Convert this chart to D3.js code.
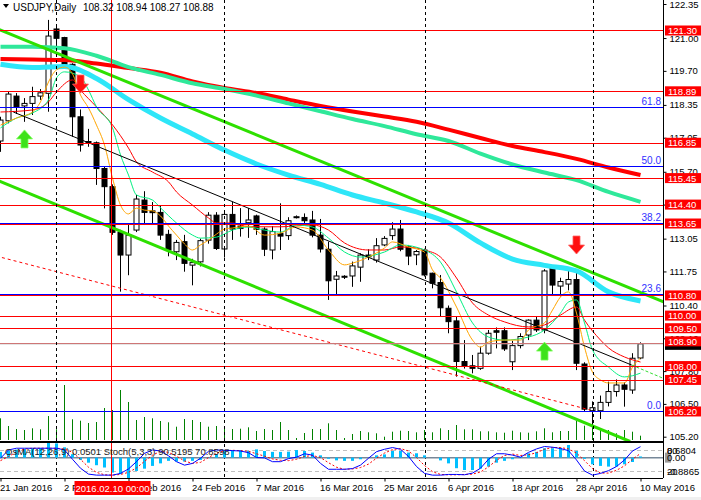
<!DOCTYPE html>
<html>
<head>
<meta charset="utf-8">
<script src="https://cdn.jsdelivr.net/npm/d3@7"></script>
<style>
  body { margin: 0; background: #fff; }
  svg { display: block; font-family: "Liberation Sans", Arial, sans-serif; font-size: 9px; }
</style>
</head>
<body>
<svg id="chart" width="701" height="500"></svg>
<script>
// USDJPY daily, bar index 0 = 21 Jan 2016 ... 80 = 10 May 2016
const barOpen = [116.92,117.72,118.70,118.31,118.41,118.70,118.81,121.36,121.02,119.96,
  117.88,116.90,116.85,115.83,115.11,113.30,112.40,113.39,114.58,114.15,
  114.09,113.22,112.53,112.93,112.00,112.13,112.99,113.98,112.64,114.01,
  113.55,113.68,113.95,113.43,112.60,113.25,113.17,113.88,113.89,113.79,
  113.19,112.63,111.44,111.56,111.57,111.92,112.40,112.20,112.80,113.17,
  113.43,112.73,112.41,112.60,111.68,111.31,110.29,109.79,108.18,108.01,
  107.91,108.51,109.40,109.40,108.17,108.81,109.23,109.82,109.43,111.88,
  111.17,111.25,111.43,108.08,106.23,106.23,106.56,106.99,107.25,107.05,108.32];
const barHigh = [117.88,118.90,118.82,118.62,119.07,118.98,121.72,121.45,121.05,120.00,
  118.17,117.40,116.90,115.90,115.20,113.40,113.59,114.78,114.93,114.50,
  114.38,113.40,113.00,113.20,112.25,113.05,114.10,114.10,114.18,114.51,
  114.26,114.26,114.00,113.50,113.55,114.45,113.90,113.97,114.05,114.15,
  113.83,112.93,111.77,111.60,112.14,112.47,112.63,113.07,113.15,113.70,
  113.79,112.80,112.60,112.65,111.70,111.61,110.40,109.96,109.03,108.44,
  108.77,109.43,109.53,109.53,109.00,109.30,109.85,109.96,111.84,111.90,
  111.50,111.78,111.81,108.15,106.60,106.83,107.38,107.47,107.35,108.51,108.94];
const barLow = [116.49,117.62,117.99,117.68,117.95,118.55,118.08,120.59,119.87,117.09,
  116.50,116.69,115.18,114.25,113.20,110.95,111.60,113.31,113.59,113.59,
  113.00,112.35,112.20,111.74,111.20,111.95,112.85,112.60,112.30,113.00,
  113.13,113.08,113.20,112.36,112.23,112.60,113.00,113.85,113.60,113.10,
  112.50,110.62,110.79,111.45,111.14,111.34,112.20,112.10,112.75,113.00,
  112.55,112.00,112.00,111.55,111.08,109.96,109.30,107.58,107.90,107.71,
  107.85,108.45,108.70,108.60,107.84,108.70,109.03,109.35,109.30,110.82,
  110.76,111.00,107.84,106.21,105.60,105.90,106.40,106.79,106.39,106.90,108.27];
const barClose = [117.75,118.78,118.27,118.41,118.68,118.83,121.08,120.99,119.96,117.88,
  116.76,116.84,115.83,115.11,113.30,112.40,113.19,114.62,114.09,114.08,
  113.19,112.60,112.90,112.07,112.10,112.97,113.98,112.66,114.01,113.43,
  113.45,113.79,113.42,112.63,113.33,113.15,113.76,113.92,113.76,113.19,
  112.64,111.38,111.57,111.52,111.97,112.40,112.33,112.77,113.06,113.43,
  112.63,112.36,112.54,111.61,111.28,110.31,109.76,108.18,108.00,107.91,
  108.51,109.30,109.34,108.68,108.81,109.17,109.82,109.43,111.77,111.21,
  111.35,111.43,108.11,106.29,106.35,106.56,106.99,107.25,107.08,108.31,108.88];
const tickVolume = [217,140,110,100,117,107,240,107,550,207,
  193,170,180,320,300,500,380,200,230,217,
  190,177,133,210,200,180,133,140,123,110,
  113,127,90,110,100,180,100,20,70,110,
  110,167,100,20,60,90,77,67,33,83,
  93,90,77,100,77,117,100,150,107,107,
  87,87,77,73,93,77,73,87,117,77,
  90,90,193,143,133,117,100,67,100,83,43];
const osmaValues = [0.25,0.30,0.35,0.38,0.40,0.42,0.68,0.62,0.45,0.15,
  -0.10,-0.22,-0.33,-0.43,-0.65,-0.72,-0.8865,-0.58,-0.48,-0.36,
  -0.25,-0.14,-0.17,-0.17,-0.14,-0.10,-0.02,0.14,0.29,0.32,
  0.32,0.29,0.36,0.29,0.25,0.25,0.26,0.33,0.29,0.22,
  0.10,-0.05,-0.12,-0.14,-0.14,-0.07,0.00,0.10,0.14,0.29,
  0.29,0.22,0.19,0.10,0.00,-0.12,-0.25,-0.46,-0.54,-0.54,
  -0.48,-0.39,-0.22,-0.14,-0.07,0.03,0.19,0.25,0.41,0.41,
  0.43,0.55,0.29,-0.05,-0.29,-0.36,-0.39,-0.39,-0.29,-0.19,0.0501];
const stochMain = [57,81,86,86,86,86,86,86,81,54,
  28,11,8,8,8,13,26,47,71,81,
  78,64,47,37,42,57,77,81,80,79,
  78,73,59,58,47,47,56,60,70,66,
  42,25,25,25,27,37,57,76,83,88,
  83,62,33,13,8,8,10,10,9,14,
  28,54,70,70,66,60,74,84,91,89,
  85,79,52,20,8,13,21,33,52,78,90.52];
const stochSignal = [50,62,75,84,86,86,86,86,84,74,
  54,31,16,9,8,10,16,29,48,66,
  77,74,63,49,42,45,59,72,79,80,
  79,77,70,63,55,51,50,54,62,65,
  59,44,31,25,26,30,40,57,72,82,
  85,78,59,36,18,10,9,9,10,11,
  17,32,51,65,69,65,67,73,83,88,
  88,84,72,50,27,14,14,22,35,54,70.86];

// moving averages as [bar, price]
const maRedThick = [[0,120.17],[4,120.15],[8,120.13],[12,119.99],[16,119.81],[20,119.63],[24,119.28],
  [28,119.02],[32,118.82],[36,118.56],[40,118.31],[44,118.09],[48,117.89],[52,117.68],[56,117.37],
  [60,117.04],[64,116.72],[68,116.48],[72,116.21],[76,115.87],[80,115.57]];
const maSpringThick = [[0,120.66],[4,120.66],[8,120.60],[12,120.30],[16,119.85],[20,119.54],[24,119.21],
  [28,118.98],[32,118.72],[36,118.41],[40,118.10],[44,117.79],[48,117.51],[52,117.19],[56,116.92],
  [60,116.42],[64,115.99],[68,115.67],[72,115.37],[76,114.90],[80,114.51]];
const maCyanThick = [[0,119.96],[4,119.83],[8,119.87],[12,119.40],[16,118.56],[20,117.83],[24,117.20],
  [28,116.56],[32,116.01],[36,115.57],[40,115.20],[44,114.78],[48,114.46],[52,114.11],[56,113.67],
  [60,112.88],[64,112.24],[68,111.99],[72,111.77],[76,110.94],[80,110.58]];
const maOrange = [[0,117.55],[2,117.83],[4,118.07],[5,118.47],[6,119.26],[7,119.74],[8,119.85],[9,119.58],
  [10,118.74],[11,118.23],[12,117.55],[13,116.76],[14,115.45],[15,114.38],[16,114.03],[17,114.26],
  [18,114.18],[19,114.15],[20,113.95],[21,113.55],[22,113.19],[23,112.84],[24,112.60],[25,112.80],
  [26,112.99],[27,113.23],[28,113.43],[29,113.47],[31,113.55],[33,113.19],[35,113.27],[37,113.51],
  [39,113.39],[41,112.60],[43,112.01],[44,112.08],[46,112.32],[48,112.68],[49,112.92],[51,112.72],
  [53,112.52],[54,111.81],[55,111.49],[57,110.34],[59,109.03],[60,108.75],[61,108.95],[63,109.03],
  [65,109.03],[66,109.43],[68,109.71],[69,110.22],[70,110.74],[71,110.94],[72,110.10],[73,108.75],
  [74,107.76],[75,107.45],[76,107.33],[78,107.33],[79,107.96],[80,108.32]];
const maRedThin = [[0,118.07],[4,118.15],[6,118.47],[7,118.86],[9,119.34],[10,118.94],[12,118.27],
  [14,117.56],[16,116.64],[17,116.09],[19,115.69],[21,115.30],[22,114.90],[24,114.38],[26,113.87],
  [27,113.67],[29,113.67],[31,113.52],[35,113.52],[39,113.59],[41,113.39],[43,112.88],[46,112.60],
  [48,112.60],[50,112.72],[52,112.68],[53,112.60],[55,112.32],[57,111.49],[59,110.50],[61,110.02],
  [63,109.75],[66,109.55],[68,109.63],[70,110.02],[72,110.34],[73,109.82],[75,109.03],[76,108.72],
  [78,108.36],[80,108.16]];
const maSpringThin = [[0,117.44],[2,117.83],[4,118.03],[6,118.55],[7,119.42],[8,119.66],[10,119.46],
  [11,118.94],[12,118.27],[14,117.44],[15,116.37],[16,115.57],[17,114.78],[19,114.58],[20,114.27],
  [22,113.67],[24,113.19],[25,113.07],[27,113.11],[29,113.39],[31,113.51],[33,113.39],[35,113.31],
  [37,113.59],[39,113.51],[41,113.07],[43,112.52],[45,112.32],[48,112.52],[50,112.80],[53,112.60],
  [55,112.12],[57,110.94],[59,109.71],[61,109.15],[63,109.03],[66,109.15],[68,109.43],[70,110.10],
  [71,110.54],[72,110.62],[73,109.71],[74,108.64],[76,107.96],[78,107.57],[80,107.72]];

// trend lines, endpoints as [bar, price]
const channelUpper = [[-2,121.58],[83,110.53]];
const channelLower = [[-2,115.57],[78.7,105.01]];
const blackTrend = [[1.6,118.07],[78.9,108.04]];
const limeDashTrend = [[78.9,108.04],[82.8,107.52]];
const redDashTrend = [[-2,112.48],[73.7,106.26]];

const redLevels = [121.30,118.89,116.85,115.45,114.40,113.65,110.80,110.00,109.50,108.90,108.00,107.45,106.20];
const fibPrices = [106.19,110.83,113.62,115.90,118.22];
const fibLabels = ["0.0","23.6","38.2","50.0","61.8"];
const bidPrice = 108.88;

const upArrows = [[3,117.36],[68,108.95]];
const downArrows = [[10,118.82],[72,112.44]];

const priceTicks = [122.35,121.00,119.70,118.35,117.05,115.70,114.40,113.05,111.75,110.40,109.10,107.80,106.50,105.20];
const timeTickBars = [0,8,16,24,32,40,48,56,64,72,80];
const timeTickLabels = ["21 Jan 2016","2 Feb 2016","12 Feb 2016","24 Feb 2016","7 Mar 2016","16 Mar 2016",
  "25 Mar 2016","6 Apr 2016","18 Apr 2016","28 Apr 2016","10 May 2016"];
const separatorBars = [7,28,53,74];
const markerBar = 14;
const markerLabel = "2016.02.10 00:00";

const plotRight = 663, mainBottom = 441, subTop = 443, subBottom = 478;

const svg = d3.select("#chart");
svg.append("rect").attr("width", 701).attr("height", 500).attr("fill", "#fff");
svg.append("rect").attr("x", 0).attr("y", 497).attr("width", 701).attr("height", 3).attr("fill", "#f0f0f0");

const x = d3.scaleLinear().domain([0, 80]).range([0.5, 640.5]);
const y = d3.scaleLinear().domain([105.20, 122.35]).range([436.7, 4]);
const yVol = d3.scaleLinear().domain([0, 600]).range([440, 380]);
const yOsma = d3.scaleLinear().domain([-0.8865, 0.6804]).range([478, 442]);
const yStoch = d3.scaleLinear().domain([0, 100]).range([477.9, 443.4]);

const defs = svg.append("defs");
defs.append("clipPath").attr("id", "clipMain")
  .append("rect").attr("x", 0).attr("y", 0).attr("width", plotRight).attr("height", mainBottom);
defs.append("clipPath").attr("id", "clipSub")
  .append("rect").attr("x", 0).attr("y", subTop).attr("width", plotRight).attr("height", subBottom - subTop);

const bars = d3.range(barOpen.length);
const main = svg.append("g").attr("clip-path", "url(#clipMain)");

// volumes
main.append("g").selectAll("line").data(bars).enter().append("line")
  .attr("x1", function (i) { return x(i); })
  .attr("x2", function (i) { return x(i); })
  .attr("y1", yVol(0))
  .attr("y2", function (i) { return yVol(tickVolume[i]); })
  .attr("stroke", "#008000").attr("stroke-width", 1);

// period separators, through both windows
svg.append("g").selectAll("line").data(separatorBars).enter().append("line")
  .attr("x1", function (i) { return Math.round(x(i)) + 0.5; })
  .attr("x2", function (i) { return Math.round(x(i)) + 0.5; })
  .attr("y1", 0).attr("y2", subBottom)
  .attr("stroke", "#000").attr("stroke-dasharray", "3,3");

// candles
const candles = main.append("g").selectAll("g").data(bars).enter().append("g");
candles.append("line")
  .attr("x1", function (i) { return x(i); })
  .attr("x2", function (i) { return x(i); })
  .attr("y1", function (i) { return y(barHigh[i]); })
  .attr("y2", function (i) { return y(barLow[i]); })
  .attr("stroke", "#000");
candles.append("rect")
  .attr("x", function (i) { return x(i) - 2.5; })
  .attr("y", function (i) { return y(Math.max(barOpen[i], barClose[i])); })
  .attr("width", 5)
  .attr("height", function (i) { return Math.max(1, Math.abs(y(barOpen[i]) - y(barClose[i]))); })
  .attr("fill", function (i) { return barClose[i] >= barOpen[i] ? "#fff" : "#000"; })
  .attr("stroke", "#000").attr("stroke-width", 1);

const maLine = d3.line()
  .x(function (d) { return x(d[0]); })
  .y(function (d) { return y(d[1]); })
  .curve(d3.curveMonotoneX);

function drawPath(data, color, width, dash) {
  const p = main.append("path").datum(data)
    .attr("fill", "none").attr("stroke", color).attr("stroke-width", width)
    .attr("d", maLine);
  if (dash) p.attr("stroke-dasharray", dash);
  return p;
}

drawPath(maRedThick, "#ff0000", 4);
drawPath(maSpringThick, "#2fe89a", 4);
drawPath(maCyanThick, "#2ee6f8", 5);
drawPath(maRedThin, "#ff0000", 1);
drawPath(maSpringThin, "#00f080", 1);
drawPath(maOrange, "#ffa500", 1);

const straight = d3.line()
  .x(function (d) { return x(d[0]); })
  .y(function (d) { return y(d[1]); });
main.append("path").datum(channelUpper).attr("d", straight).attr("fill", "none").attr("stroke", "#2ee000").attr("stroke-width", 3);
main.append("path").datum(channelLower).attr("d", straight).attr("fill", "none").attr("stroke", "#2ee000").attr("stroke-width", 3);
main.append("path").datum(blackTrend).attr("d", straight).attr("fill", "none").attr("stroke", "#000").attr("stroke-width", 1);
main.append("path").datum(limeDashTrend).attr("d", straight).attr("fill", "none").attr("stroke", "#33dd33").attr("stroke-width", 1).attr("stroke-dasharray", "3,2");
main.append("path").datum(redDashTrend).attr("d", straight).attr("fill", "none").attr("stroke", "#ff0000").attr("stroke-width", 1).attr("stroke-dasharray", "3,3");

// horizontal levels
main.append("g").selectAll("line").data(redLevels).enter().append("line")
  .attr("x1", 0).attr("x2", plotRight)
  .attr("y1", function (d) { return Math.round(y(d)) + 0.5; })
  .attr("y2", function (d) { return Math.round(y(d)) + 0.5; })
  .attr("stroke", "#ff0000").attr("stroke-width", 1);
main.append("g").selectAll("line").data(fibPrices).enter().append("line")
  .attr("x1", 0).attr("x2", plotRight)
  .attr("y1", function (d) { return Math.round(y(d)) - 0.5; })
  .attr("y2", function (d) { return Math.round(y(d)) - 0.5; })
  .attr("stroke", "#0000ff").attr("stroke-width", 1);
main.append("line")
  .attr("x1", 0).attr("x2", plotRight)
  .attr("y1", y(bidPrice)).attr("y2", y(bidPrice))
  .attr("stroke", "#b4b4b4").attr("stroke-width", 1);
main.append("g").selectAll("text").data(fibPrices).enter().append("text")
  .attr("x", 661)
  .attr("y", function (d) { return y(d) - 3; })
  .attr("text-anchor", "end")
  .attr("fill", "#3030ff")
  .style("font-size", "10px")
  .text(function (d, k) { return fibLabels[k]; });

// signal arrows
function upArrow(cx, ty) {
  return "M" + cx + "," + ty + "l8,9h-4.5v9h-7v-9h-4.5z";
}
function downArrow(cx, by) {
  return "M" + cx + "," + by + "l8,-9h-4.5v-9h-7v9h-4.5z";
}
main.append("g").selectAll("path").data(upArrows).enter().append("path")
  .attr("d", function (d) { return upArrow(x(d[0]), y(d[1])); })
  .attr("fill", "#3ee21a").attr("stroke", "#7cff5a").attr("stroke-width", 0.8);
main.append("g").selectAll("path").data(downArrows).enter().append("path")
  .attr("d", function (d) { return downArrow(x(d[0]), y(d[1])); })
  .attr("fill", "#ff1010").attr("stroke", "#ff6060").attr("stroke-width", 0.8);

// sub window: OsMA + Stochastic
const sub = svg.append("g").attr("clip-path", "url(#clipSub)");
sub.append("g").selectAll("line").data([80, 20]).enter().append("line")
  .attr("x1", 0).attr("x2", plotRight)
  .attr("y1", function (d) { return Math.round(yStoch(d)) + 0.5; })
  .attr("y2", function (d) { return Math.round(yStoch(d)) + 0.5; })
  .attr("stroke", "#c0c0c0").attr("stroke-dasharray", "4,3");
sub.append("line")
  .attr("x1", 0).attr("x2", plotRight)
  .attr("y1", yOsma(0)).attr("y2", yOsma(0))
  .attr("stroke", "#778899").attr("stroke-width", 1.5);
sub.append("g").selectAll("rect").data(bars).enter().append("rect")
  .attr("x", function (i) { return x(i) - 1.5; })
  .attr("width", 3)
  .attr("y", function (i) { return Math.min(yOsma(0), yOsma(osmaValues[i])); })
  .attr("height", function (i) { return Math.abs(yOsma(osmaValues[i]) - yOsma(0)); })
  .attr("fill", "#00bfff");
const stochLine = d3.line()
  .x(function (d, i) { return x(i); })
  .y(function (d) { return yStoch(d); });
sub.append("path").datum(stochSignal).attr("d", stochLine)
  .attr("fill", "none").attr("stroke", "#ff0000").attr("stroke-dasharray", "2,2");
sub.append("path").datum(stochMain).attr("d", stochLine)
  .attr("fill", "none").attr("stroke", "#0000ff");

// marker vertical line (drawn over both windows)
svg.append("line")
  .attr("x1", Math.round(x(markerBar)) - 0.5).attr("x2", Math.round(x(markerBar)) - 0.5)
  .attr("y1", 0).attr("y2", subBottom)
  .attr("stroke", "#ff0000");

// frame
svg.append("line").attr("x1", 0).attr("x2", plotRight).attr("y1", mainBottom + 0.5).attr("y2", mainBottom + 0.5).attr("stroke", "#000");
svg.append("line").attr("x1", 0).attr("x2", plotRight).attr("y1", subTop - 0.5).attr("y2", subTop - 0.5).attr("stroke", "#000");
svg.append("line").attr("x1", 0).attr("x2", plotRight).attr("y1", subBottom + 0.5).attr("y2", subBottom + 0.5).attr("stroke", "#000");
svg.append("line").attr("x1", plotRight + 0.5).attr("x2", plotRight + 0.5).attr("y1", 0).attr("y2", subBottom).attr("stroke", "#000");

// price axis
const yAxis = svg.append("g")
  .attr("transform", "translate(" + (plotRight + 0.5) + ",0)")
  .call(d3.axisRight(y).tickValues(priceTicks).tickSize(3).tickPadding(3).tickFormat(d3.format(".2f")));
yAxis.select(".domain").remove();
yAxis.selectAll("text").style("font-size", "9.5px").attr("fill", "#000").attr("font-family", null);

// price labels on the axis
function priceBox(price, fill, dy) {
  const yy = y(price) + (dy || 0);
  svg.append("rect").attr("x", 665).attr("y", yy - 5).attr("width", 36).attr("height", 10).attr("fill", fill);
  svg.append("text").attr("x", 668).attr("y", yy + 3.5).attr("fill", "#fff").style("font-size", "9.5px")
    .text(price.toFixed(2));
}
svg.append("rect").attr("x", 665).attr("y", y(bidPrice) - 4).attr("width", 36).attr("height", 10).attr("fill", "#000");
redLevels.forEach(function (p) { priceBox(p, "#ff0000", p === 108.90 ? -2 : 0); });

// sub window scale labels
const subLabels = [[yStoch(80), "80"], [yStoch(80), "0.6804"], [yOsma(0), "0.00"], [yStoch(20), "20"], [yStoch(20), "-0.8865"]];
svg.append("rect").attr("x", 665).attr("y", yOsma(0) - 5).attr("width", 6).attr("height", 10).attr("fill", "#9a9a9a");
svg.append("g").selectAll("text").data(subLabels).enter().append("text")
  .attr("x", 667)
  .attr("y", function (d) { return d[0] + 3.5; })
  .attr("fill", "#000").style("font-size", "9.5px")
  .text(function (d) { return d[1]; });

// time axis
const xAxis = svg.append("g")
  .attr("transform", "translate(0," + (subBottom + 0.5) + ")")
  .call(d3.axisBottom(x).tickValues(timeTickBars).tickSize(3)
    .tickFormat(function (d, k) { return timeTickLabels[k]; }));
xAxis.select(".domain").remove();
xAxis.selectAll("text")
  .attr("text-anchor", "start").attr("x", -1).attr("y", 9).attr("dy", "0.32em")
  .style("font-size", "9.5px").attr("fill", "#000").attr("font-family", null);

svg.append("rect").attr("x", x(markerBar) - 38).attr("y", 481).attr("width", 76).attr("height", 14).attr("fill", "#ff0000");
svg.append("text").attr("x", x(markerBar)).attr("y", 491.5).attr("text-anchor", "middle")
  .attr("fill", "#fff").style("font-size", "9.5px").text(markerLabel);

// headers
svg.append("path").attr("d", "M3,4h6l-3,4z").attr("fill", "#000");
svg.append("text").attr("x", 13).attr("y", 10.5).style("font-size", "10px").attr("fill", "#000").text("USDJPY,Daily");
svg.append("text").attr("x", 83).attr("y", 10.5).style("font-size", "10px").attr("fill", "#000")
  .text([barOpen[80], barHigh[80], barLow[80], barClose[80]].map(function (v) { return v.toFixed(2); }).join(" "));
svg.append("text").attr("x", 5).attr("y", 455).style("font-size", "9.5px").attr("fill", "#222")
  .text("OsMA(12,26,9) " + osmaValues[80].toFixed(4) + "  Stoch(5,3,3) 90.5195 70.8598");
</script>
</body>
</html>
